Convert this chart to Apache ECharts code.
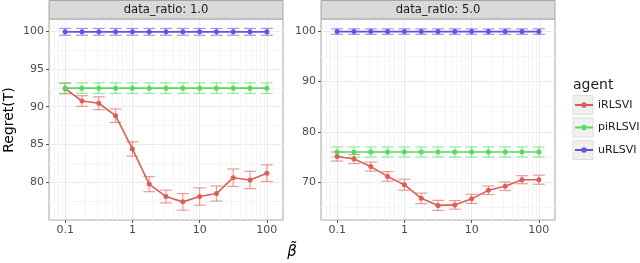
<!DOCTYPE html>
<html><head><meta charset="utf-8">
<script src="https://cdn.jsdelivr.net/npm/echarts@6/dist/echarts.min.js"></script>
<style>html,body{margin:0;padding:0;background:#fff}#c{width:640px;height:263px}</style>
</head><body><div id="c"></div>
<script>
// ---- data ----
const betaValues = [0.1, 0.178, 0.316, 0.562, 1, 1.78, 3.16, 5.62, 10, 17.8, 31.6, 56.2, 100];
const panelTitles = ['data_ratio: 1.0', 'data_ratio: 5.0'];
const agentNames = ['iRLSVI', 'piRLSVI', 'uRLSVI'];
const xTickLabels = [0.1, 1, 10, 100];
const yTickLabelsR1 = [80, 85, 90, 95, 100];
const yTickLabelsR5 = [70, 80, 90, 100];

// data_ratio 1.0
const iRLSVI_r1 = [92.4, 90.75, 90.45, 88.8, 84.4, 79.75, 78.1, 77.4, 78.1, 78.5, 80.6, 80.3, 81.2];
const iRLSVI_r1_err = [0.7, 0.7, 0.85, 0.9, 0.95, 1.0, 0.85, 1.1, 1.15, 1.0, 1.15, 1.15, 1.1];
const piRLSVI_r1 = [92.45, 92.45, 92.45, 92.45, 92.45, 92.45, 92.45, 92.45, 92.45, 92.45, 92.45, 92.45, 92.45];
const piRLSVI_r1_err = [0.7, 0.7, 0.7, 0.7, 0.7, 0.7, 0.7, 0.7, 0.7, 0.7, 0.7, 0.7, 0.7];
const uRLSVI_r1 = [99.9, 99.9, 99.9, 99.9, 99.9, 99.9, 99.9, 99.9, 99.9, 99.9, 99.9, 99.9, 99.9];
const uRLSVI_r1_err = [0.45, 0.45, 0.45, 0.45, 0.45, 0.45, 0.45, 0.45, 0.45, 0.45, 0.45, 0.45, 0.45];

// data_ratio 5.0
const iRLSVI_r5 = [75.1, 74.6, 73.1, 71.15, 69.5, 66.8, 65.4, 65.5, 66.7, 68.4, 69.2, 70.5, 70.5];
const iRLSVI_r5_err = [0.9, 0.9, 0.9, 0.95, 1.1, 1.05, 1.0, 0.85, 0.9, 0.85, 0.85, 0.8, 0.9];
const piRLSVI_r5 = [76.0, 76.0, 76.0, 76.0, 76.0, 76.0, 76.0, 76.0, 76.0, 76.0, 76.0, 76.0, 76.0];
const piRLSVI_r5_err = [1.0, 1.0, 1.0, 1.0, 1.0, 1.0, 1.0, 1.0, 1.0, 1.0, 1.0, 1.0, 1.0];
const uRLSVI_r5 = [99.9, 99.9, 99.9, 99.9, 99.9, 99.9, 99.9, 99.9, 99.9, 99.9, 99.9, 99.9, 99.9];
const uRLSVI_r5_err = [0.55, 0.55, 0.55, 0.55, 0.55, 0.55, 0.55, 0.55, 0.55, 0.55, 0.55, 0.55, 0.55];

// minor gridline positions (axis decoration)
const xMinorGrid = [0.06, 0.07, 0.08, 0.09, 0.2, 0.3, 0.4, 0.5, 0.6, 0.7, 0.8, 0.9, 2, 3, 4, 5, 6, 7, 8, 9, 20, 30, 40, 50, 60, 70, 80, 90];
const yMinorGridR1 = [77.5, 82.5, 87.5, 92.5, 97.5];
const yMinorGridR5 = [65, 75, 85, 95];

// ---- styling ----
const FONT = 'DejaVu Sans';
const colors = {iRLSVI: '#db5f57', piRLSVI: '#57db5f', uRLSVI: '#5f57db'};
const errColors = {iRLSVI: 'rgba(219,95,87,0.6)', piRLSVI: 'rgba(87,219,95,0.6)', uRLSVI: 'rgba(95,87,219,0.6)'};
const panels = [
  {left: 49, yMin: 75, yMax: 101.6, yTicks: yTickLabelsR1, yMinor: yMinorGridR1,
   vals: {iRLSVI: [iRLSVI_r1, iRLSVI_r1_err], piRLSVI: [piRLSVI_r1, piRLSVI_r1_err], uRLSVI: [uRLSVI_r1, uRLSVI_r1_err]}},
  {left: 321, yMin: 62.5, yMax: 102.4, yTicks: yTickLabelsR5, yMinor: yMinorGridR5,
   vals: {iRLSVI: [iRLSVI_r5, iRLSVI_r5_err], piRLSVI: [piRLSVI_r5, piRLSVI_r5_err], uRLSVI: [uRLSVI_r5, uRLSVI_r5_err]}}
];
const GTOP = 19, GW = 234, GH = 201;

function errRender(params, api) {
  const x = api.value(0), lo = api.value(1), hi = api.value(2);
  const a = api.coord([x, lo]), b = api.coord([x, hi]);
  const w = 6;
  const st = {stroke: api.visual('color'), lineWidth: 1.2};
  return {type: 'group', children: [
    {type: 'line', shape: {x1: a[0], y1: a[1], x2: b[0], y2: b[1]}, style: st},
    {type: 'line', shape: {x1: a[0] - w, y1: a[1], x2: a[0] + w, y2: a[1]}, style: st},
    {type: 'line', shape: {x1: b[0] - w, y1: b[1], x2: b[0] + w, y2: b[1]}, style: st}
  ]};
}

const grid = [], xAxis = [], yAxis = [], series = [], graphic = [];
panels.forEach((p, pi) => {
  grid.push({left: p.left, top: GTOP, width: GW, height: GH, show: true, borderColor: '#a6a6a6', borderWidth: 1, backgroundColor: '#fff'});
  xAxis.push({
    type: 'log', logBase: 10, gridIndex: pi, min: 0.0575, max: 173.8,
    axisLine: {show: false},
    axisTick: {show: true, length: 3, lineStyle: {color: '#555'}, customValues: xTickLabels},
    splitLine: {show: true, lineStyle: {color: '#ebebeb', width: 1}},
    axisLabel: {color: '#4d4d4d', fontSize: 11, fontFamily: FONT, margin: 5, customValues: xTickLabels,
      formatter: v => { const t = xTickLabels.find(k => Math.abs(k - v) / k < 1e-6); return t === undefined ? '' : String(t); }}
  });
  yAxis.push({
    type: 'value', gridIndex: pi, min: p.yMin, max: p.yMax,
    axisLine: {show: false},
    axisTick: {show: true, length: 3, lineStyle: {color: '#555'}, customValues: p.yTicks},
    splitLine: {show: true, lineStyle: {color: '#ebebeb', width: 1}},
    axisLabel: {color: '#4d4d4d', fontSize: 11, fontFamily: FONT, margin: 5, customValues: p.yTicks,
      formatter: v => String(v)}
  });
  // minor grid lines
  series.push({
    type: 'line', xAxisIndex: pi, yAxisIndex: pi, data: [], silent: true, name: 'minor' + pi,
    markLine: {silent: true, z: 1, symbol: ['none', 'none'], label: {show: false}, animation: false,
      lineStyle: {color: '#f5f5f5', width: 1, type: 'solid'},
      emphasis: {disabled: true},
      data: xMinorGrid.map(v => ({xAxis: v})).concat(p.yMinor.map(v => ({yAxis: v})))}
  });
  agentNames.forEach(a => {
    const [m, e] = p.vals[a];
    series.push({
      type: 'custom', name: a + '_err' + pi, xAxisIndex: pi, yAxisIndex: pi, silent: true, z: 2,
      renderItem: errRender, itemStyle: {color: errColors[a]},
      encode: {x: 0, y: [1, 2]},
      data: betaValues.map((b, i) => [b, m[i] - e[i], m[i] + e[i]])
    });
    series.push({
      type: 'line', name: a, xAxisIndex: pi, yAxisIndex: pi, z: 3,
      symbol: 'circle', symbolSize: 5, showSymbol: true,
      lineStyle: {color: colors[a], width: 1.6}, itemStyle: {color: colors[a]},
      data: betaValues.map((b, i) => [b, m[i]])
    });
  });
  // strip
  graphic.push({type: 'rect', shape: {x: p.left, y: 0.5, width: GW, height: GTOP - 0.5}, style: {fill: '#d9d9d9', stroke: '#a6a6a6', lineWidth: 1}, z: 10});
  graphic.push({type: 'text', x: p.left + GW / 2, y: GTOP / 2 + 0.5, style: {text: panelTitles[pi], fill: '#1a1a1a', font: '11.6px "DejaVu Sans"', align: 'center', verticalAlign: 'middle'}, z: 11});
});

// axis titles
graphic.push({type: 'text', x: 9, y: 120, rotation: Math.PI / 2, style: {text: 'Regret(T)', fill: '#000', font: '14px "DejaVu Sans"', align: 'center', verticalAlign: 'middle'}, z: 11});
graphic.push({type: 'text', x: 292, y: 252, style: {text: 'β\u0303', fill: '#000', font: 'italic 15px "DejaVu Sans"', align: 'center', verticalAlign: 'middle'}, z: 11});
// legend title and key boxes
graphic.push({type: 'text', x: 573, y: 85, style: {text: 'agent', fill: '#1a1a1a', font: '14px "DejaVu Sans"', align: 'left', verticalAlign: 'middle'}, z: 11});
[105, 127.5, 150].forEach(cy => {
  graphic.push({type: 'rect', shape: {x: 573, y: cy - 9.5, width: 20, height: 19}, style: {fill: '#f0f0f0', stroke: '#dedede', lineWidth: 1}, z: -1});
});

const chart = echarts.init(document.getElementById('c'), null, {renderer: 'canvas'});
chart.setOption({
  animation: false,
  backgroundColor: '#fff',
  grid, xAxis, yAxis, series, graphic,
  legend: {
    data: agentNames, orient: 'vertical', left: 574, top: 98, padding: 0,
    itemWidth: 18, itemHeight: 7, itemGap: 8.5, selectedMode: false, z: 20,
    textStyle: {fontSize: 11, color: '#1a1a1a', fontFamily: FONT, lineHeight: 14}
  }
});
</script></body></html>
